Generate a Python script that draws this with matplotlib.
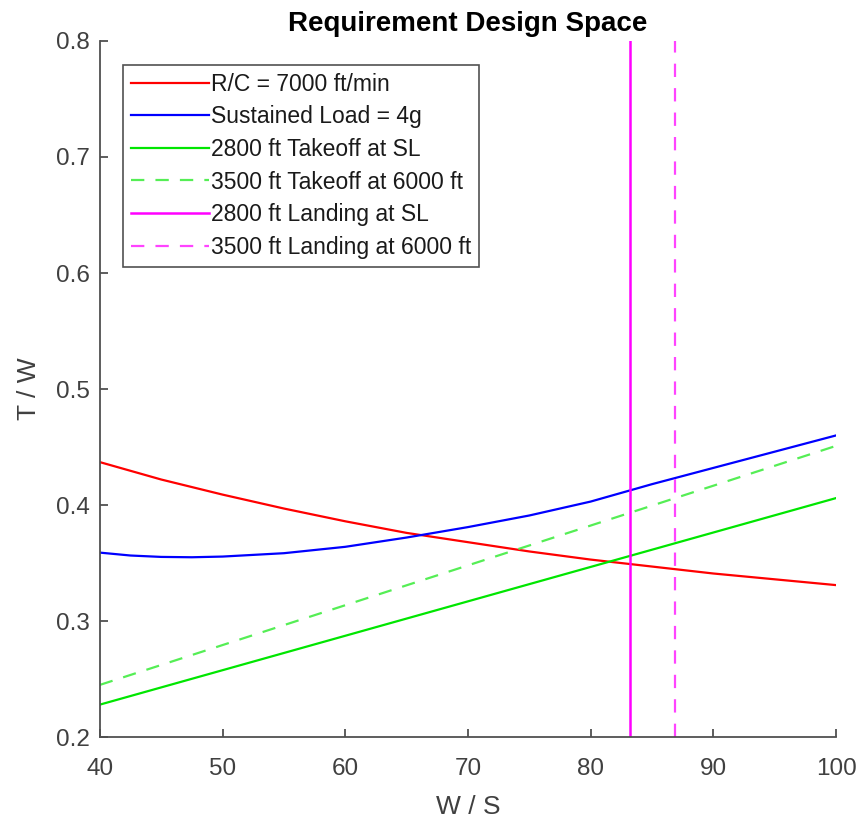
import numpy as np
import matplotlib.pyplot as plt

plt.rcParams['font.family'] = ['Liberation Sans', 'DejaVu Sans']

# climb rate R/C = 7000 ft/min
ws_climb = [40, 45, 50, 55, 60, 65, 70, 75, 80, 85, 90, 95, 100]
tw_climb = [0.437, 0.422, 0.409, 0.397, 0.386, 0.376, 0.368, 0.360, 0.353, 0.347, 0.341, 0.336, 0.331]
# sustained load 4g
ws_turn = [40, 42.5, 45, 47.5, 50, 55, 60, 65, 70, 75, 80, 85, 90, 95, 100]
tw_turn = [0.359, 0.3565, 0.3553, 0.3550, 0.3556, 0.3585, 0.364, 0.372, 0.381, 0.391, 0.403, 0.418, 0.432, 0.446, 0.460]
# takeoff lines
ws_to = [40, 100]
tw_to_sl = [0.228, 0.406]
tw_to_6k = [0.245, 0.451]
# landing limits (W/S)
ws_land_sl = 83.2
ws_land_6k = 86.9

fig = plt.figure(figsize=(8.61, 8.19), dpi=100)
ax = fig.add_axes([0.116, 0.1, 0.855, 0.85])

ax.plot(ws_climb, tw_climb, color='#ff0000', lw=1.6, label='R/C = 7000 ft/min')
ax.plot(ws_turn, tw_turn, color='#0000ff', lw=1.6, label='Sustained Load = 4g')
ax.plot(ws_to, tw_to_sl, color='#00e600', lw=1.6, label='2800 ft Takeoff at SL')
ax.plot(ws_to, tw_to_6k, color='#55ee55', lw=1.6, ls=(0, (6, 5)), label='3500 ft Takeoff at 6000 ft')
ax.axvline(ws_land_sl, color='#ff00ff', lw=1.8, label='2800 ft Landing at SL')
ax.axvline(ws_land_6k, color='#ff44ff', lw=1.6, ls=(0, (6, 5)), label='3500 ft Landing at 6000 ft')

ax.set_xlim(40, 100)
ax.set_ylim(0.2, 0.8)
ax.set_xticks(np.arange(40, 101, 10))
ax.set_yticks(np.arange(0.2, 0.81, 0.1))
ax.set_yticklabels(['0.2', '0.3', '0.4', '0.5', '0.6', '0.7', '0.8'])

for s in ['top', 'right']:
    ax.spines[s].set_visible(False)
for s in ['left', 'bottom']:
    ax.spines[s].set_color('#505050')
    ax.spines[s].set_linewidth(1.3)
ax.tick_params(direction='in', length=6, width=1.3, colors='#505050',
               labelcolor='#404040', labelsize=17.5)
ax.tick_params(axis='x', pad=15)
ax.tick_params(axis='y', pad=7)

ax.set_xlabel('W / S', fontsize=19, color='#404040', labelpad=11)
ax.set_ylabel('T / W', fontsize=19, color='#404040', labelpad=11)
ax.set_title('Requirement Design Space', fontsize=20, fontweight='bold', pad=7)

leg = ax.legend(loc='upper left', bbox_to_anchor=(0.031, 0.966), fontsize=16.5,
                frameon=True, fancybox=False, handlelength=3.4, handletextpad=0.1,
                labelspacing=0.42, borderpad=0.35, borderaxespad=0)
leg.get_frame().set_edgecolor('#262626')
leg.get_frame().set_linewidth(1.2)
for t in leg.get_texts():
    t.set_color('#1a1a1a')

fig.savefig('out.png', dpi=100)
